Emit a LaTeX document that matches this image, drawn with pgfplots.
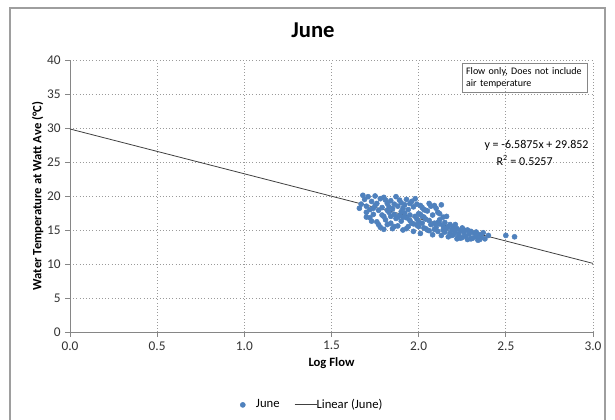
\documentclass[border=0pt]{standalone}
\usepackage{pgfplots}
\pgfplotsset{compat=1.18}
\usepackage{fontspec}
\setmainfont{Carlito}
\definecolor{exblue}{HTML}{4F81BD}
\definecolor{axgray}{HTML}{868686}
\definecolor{grdgray}{HTML}{9A9A9A}
\begin{document}
\begin{tikzpicture}[x=1pt,y=1pt]
\useasboundingbox (0,0) rectangle (461.25,315);
\draw[color=axgray!80,line width=0.8pt] (7.5,-5) -- (7.5,309) -- (453.75,309) -- (453.75,-5);
\node[font=\bfseries\fontsize{17}{20}\selectfont] at (234.75,292.5) {June};
\begin{axis}[
  at={(52.5pt,66pt)}, anchor=south west,
  scale only axis, width=392.25pt, height=204pt,
  xmin=0, xmax=3, ymin=0, ymax=40,
  xtick={0,0.5,...,3}, ytick={0,5,...,40},
  /pgf/number format/assume math mode=true,
  xticklabel style={/pgf/number format/.cd,fixed,fixed zerofill,precision=1},
  tick label style={font=\fontsize{10}{12}\selectfont, color=black!80},
  axis x line*=bottom, axis y line*=left,
  axis line style={color=axgray, line width=0.6pt},
  tick style={color=axgray, line width=0.6pt},
  tick align=outside, major tick length=3.5pt,
  grid=major, grid style={color=grdgray, dotted, line width=0.6pt},
  xlabel={\bfseries Log Flow}, ylabel={\bfseries Water Temperature at Watt Ave (°C)},
  label style={font=\fontsize{9.5}{11}\selectfont},
  xlabel style={yshift=1pt}, ylabel style={yshift=-4pt},
  legend style={at={(0.464,-0.268)}, anchor=center, draw=none, legend columns=2,
    font=\fontsize{9.5}{11}\selectfont, /tikz/every even column/.append style={column sep=9pt}},
  legend cell align=left,
  clip=false,
]
\addplot[only marks, mark=*, mark size=1.9pt, color=exblue, mark options={fill=exblue, draw=exblue}] table {
x y
1.66 18.2
1.67 18.8
1.68 20.1
1.69 19.5
1.70 17.6
1.70 18.5
1.71 19.9
1.72 16.8
1.72 18.0
1.73 19.2
1.74 17.3
1.75 20.0
1.75 18.6
1.76 16.2
1.77 17.9
1.78 19.6
1.78 15.4
1.79 18.3
1.80 17.0
1.80 19.8
1.81 16.5
1.82 18.9
1.82 15.8
1.83 17.6
1.84 19.3
1.84 16.0
1.85 18.1
1.85 15.2
1.86 17.3
1.87 19.9
1.87 16.7
1.88 18.5
1.88 15.6
1.89 17.1
1.90 19.0
1.90 16.3
1.91 18.2
1.91 15.0
1.92 17.5
1.93 19.5
1.93 16.8
1.94 18.0
1.94 15.5
1.95 17.2
1.96 19.2
1.96 16.0
1.97 18.4
1.97 14.8
1.98 17.0
1.99 18.8
1.99 15.7
2.00 17.4
2.00 16.2
2.01 18.6
2.01 14.5
2.02 17.0
2.03 15.3
2.03 18.0
2.04 16.6
2.05 17.8
2.05 15.0
2.06 16.4
2.07 18.5
2.07 15.8
2.08 17.2
2.08 14.3
2.09 16.0
2.10 18.2
2.10 15.4
2.11 17.6
2.11 14.8
2.12 16.5
2.12 15.9
2.13 14.2
2.14 15.6
2.15 16.1
2.15 14.7
2.16 15.2
2.17 14.0
2.18 15.8
2.18 14.5
2.19 15.0
2.20 14.3
2.20 15.5
2.21 14.8
2.22 13.7
2.22 15.2
2.23 14.4
2.24 14.9
2.25 13.9
2.25 15.3
2.26 14.6
2.27 14.1
2.28 15.0
2.28 13.6
2.29 14.4
2.30 14.8
2.31 13.8
2.32 14.5
2.33 14.0
2.34 13.5
2.35 14.3
2.36 13.9
2.37 14.6
2.38 13.7
2.40 14.2
2.50 14.2
2.55 14.0
1.76 18.9
1.79 17.2
1.81 19.4
1.83 18.4
1.86 18.8
1.89 19.4
1.92 18.7
1.95 18.9
1.98 19.6
2.02 18.3
2.04 17.9
2.06 18.9
2.09 18.6
2.13 18.7
2.16 17.0
2.12 17.4
2.14 16.9
1.84 17.0
1.88 16.9
1.91 16.9
1.95 16.4
1.97 15.9
2.00 15.5
2.02 16.0
2.04 15.2
2.06 14.9
2.09 15.1
2.11 16.1
2.14 15.0
2.17 15.5
2.19 14.2
2.21 15.8
2.23 14.1
2.24 13.8
2.26 15.0
2.30 13.7
2.33 14.7
2.35 13.6
1.70 16.9
1.73 16.3
1.74 18.2
1.77 15.8
1.80 15.1
1.82 17.9
1.86 15.5
1.90 17.7
1.93 15.2
1.99 16.6
2.01 17.3
2.03 16.9
};
\addlegendentry{\hspace{6pt}June}
\addplot[color=black!75, line width=0.6pt] coordinates {(0,29.852) (3,10.0895)};
\addlegendentry{\hspace{-3pt}Linear (June)}
\node[draw=axgray, line width=0.6pt, align=left, anchor=north west, inner sep=3pt,
  font=\fontsize{7.5}{9}\selectfont, text width=88pt] at (rel axis cs:0.749,0.989) {Flow only, Does not include air temperature};
\node[anchor=east, font=\fontsize{9}{11}\selectfont, inner sep=0pt] at (rel axis cs:0.992,0.687) {y = -6.5875x + 29.852};
\node[anchor=west, font=\fontsize{9}{11}\selectfont, inner sep=0pt] at (rel axis cs:0.815,0.632) {R\textsuperscript{2} = 0.5257};
\end{axis}
\end{tikzpicture}
\end{document}
